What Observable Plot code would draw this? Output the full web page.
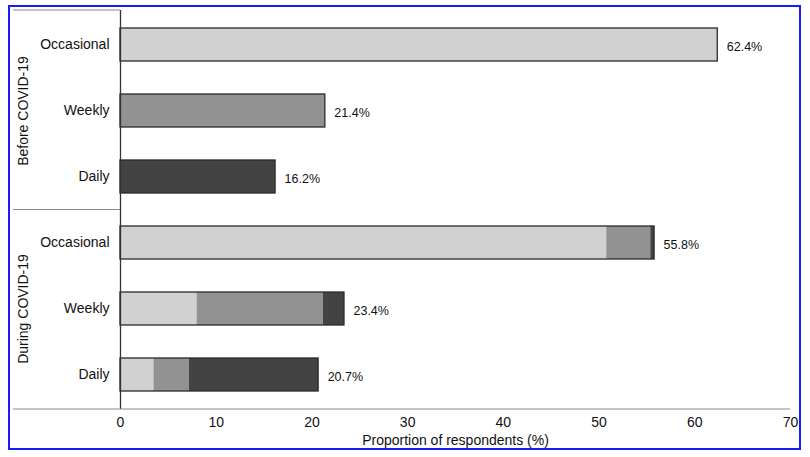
<!DOCTYPE html>
<html>
<head>
<meta charset="utf-8">
<script src="https://cdn.jsdelivr.net/npm/d3@7"></script>
<script src="https://cdn.jsdelivr.net/npm/@observablehq/plot@0.6"></script>
<style>
  html, body { margin: 0; padding: 0; background: #fff; }
  #chart svg { display: block; }
</style>
</head>
<body>
<div id="chart"></div>
<script>
// ---- data ----
const periods = ["Before COVID-19", "During COVID-19"];
const frequencies = ["Occasional", "Weekly", "Daily"];
// segments: composition by pre-pandemic frequency (Occasional, Weekly, Daily)
const beforeOccasional = [62.4, 0, 0];
const beforeWeekly = [0, 21.4, 0];
const beforeDaily = [0, 0, 16.2];
const duringOccasional = [50.8, 4.6, 0.4];
const duringWeekly = [8.0, 13.2, 2.2];
const duringDaily = [3.5, 3.7, 13.5];
const totalsBefore = [62.4, 21.4, 16.2];
const totalsDuring = [55.8, 23.4, 20.7];
const xTicks = [0, 10, 20, 30, 40, 50, 60, 70];
const segColors = ["#d1d1d1", "#929292", "#434343"];

const segRows = [
  [periods[0], frequencies[0], beforeOccasional],
  [periods[0], frequencies[1], beforeWeekly],
  [periods[0], frequencies[2], beforeDaily],
  [periods[1], frequencies[0], duringOccasional],
  [periods[1], frequencies[1], duringWeekly],
  [periods[1], frequencies[2], duringDaily]
];
const keys = segRows.map(([p, f]) => p + "|" + f);
const segments = [];
for (const [p, f, vals] of segRows) {
  vals.forEach((v, i) => {
    if (v > 0) segments.push({key: p + "|" + f, seg: frequencies[i], value: v});
  });
}
const totals = [];
periods.forEach((p, pi) => {
  const t = pi === 0 ? totalsBefore : totalsDuring;
  frequencies.forEach((f, fi) => totals.push({key: p + "|" + f, total: t[fi]}));
});
const groupLabels = periods.map(p => ({key: p + "|" + frequencies[1], label: p}));

const font = "Liberation Sans, Arial, Helvetica, sans-serif";

const plot = Plot.plot({
  width: 810,
  height: 457,
  marginTop: 10,
  marginRight: 20,
  marginBottom: 48,
  marginLeft: 120,
  style: {fontFamily: font, fontSize: "14px", color: "#111", background: "#fff"},
  x: {domain: [0, 70]},
  y: {domain: keys, paddingInner: 0.5, paddingOuter: 0.25},
  color: {domain: frequencies, range: segColors},
  marks: [
    Plot.barX(segments, Plot.stackX({x: "value", y: "key", fill: "seg", order: frequencies})),
    Plot.barX(totals, {x: "total", y: "key", fill: "none", stroke: "#2a2a2a", strokeWidth: 1.3}),
    Plot.text(totals, {x: "total", y: "key", text: d => d.total.toFixed(1) + "%", textAnchor: "start", dx: 9, dy: 2, fontSize: 12.5, fill: "#111"}),
    Plot.text(groupLabels, {y: "key", text: "label", frameAnchor: "left", textAnchor: "middle", dx: -97, rotate: -90, fontSize: 14, fill: "#111"}),
    Plot.ruleX([0], {stroke: "#333", strokeWidth: 1.3}),
    Plot.axisY({tickSize: 0, tickPadding: 11, tickFormat: d => d.split("|")[1], fontSize: 14, label: null}),
    Plot.axisX({ticks: xTicks, tickSize: 0, tickPadding: 8, fontSize: 14, label: "Proportion of respondents (%)", labelAnchor: "center", labelArrow: "none", labelOffset: 35})
  ]
});

// frame lines of the panel layout
const svg = d3.select(plot);
const ys = plot.scale("y");
const bw = ys.bandwidth;
const topY = 10, bottomY = 457 - 48;
const divY = ((ys.apply(keys[2]) + bw) + ys.apply(keys[3])) / 2;
const g = svg.append("g").attr("stroke", "#8a8a8a").attr("stroke-width", 1.2);
g.append("line").attr("x1", 13).attr("x2", 120).attr("y1", topY).attr("y2", topY);
g.append("line").attr("x1", 13).attr("x2", 120).attr("y1", divY).attr("y2", divY);
g.append("line").attr("x1", 13).attr("x2", 790).attr("y1", bottomY).attr("y2", bottomY);
svg.append("rect").attr("x", 9).attr("y", 6).attr("width", 791).attr("height", 443)
  .attr("fill", "none").attr("stroke", "#1a1aff").attr("stroke-width", 2);

document.getElementById("chart").appendChild(plot);
</script>
</body>
</html>
